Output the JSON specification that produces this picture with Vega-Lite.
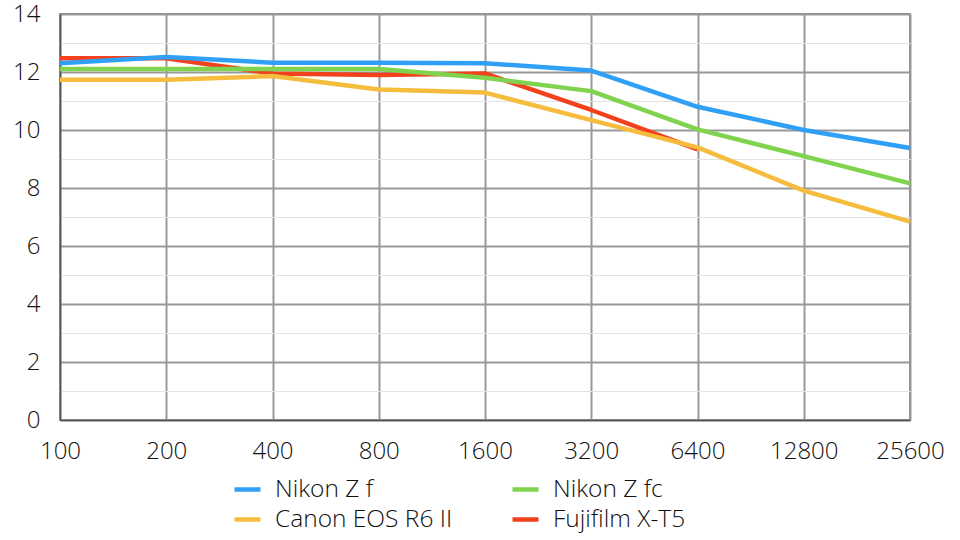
{
  "$schema": "https://vega.github.io/schema/vega-lite/v6.json",
  "width": 850,
  "height": 406,
  "autosize": {"type": "none"},
  "padding": {"left": 60, "top": 14, "right": 50, "bottom": 120},
  "background": "white",
  "config": {
    "view": {"stroke": "#666", "strokeWidth": 1.5},
    "font": "Open Sans"
  },
  "data": {
    "values": [
      {"camera": "Fujifilm X-T5", "iso": "100", "value": 12.47},
      {"camera": "Fujifilm X-T5", "iso": "200", "value": 12.47},
      {"camera": "Fujifilm X-T5", "iso": "400", "value": 11.95},
      {"camera": "Fujifilm X-T5", "iso": "800", "value": 11.9},
      {"camera": "Fujifilm X-T5", "iso": "1600", "value": 11.95},
      {"camera": "Fujifilm X-T5", "iso": "3200", "value": 10.69},
      {"camera": "Fujifilm X-T5", "iso": "6400", "value": 9.33},
      {"camera": "Nikon Z fc", "iso": "100", "value": 12.1},
      {"camera": "Nikon Z fc", "iso": "200", "value": 12.1},
      {"camera": "Nikon Z fc", "iso": "400", "value": 12.1},
      {"camera": "Nikon Z fc", "iso": "800", "value": 12.1},
      {"camera": "Nikon Z fc", "iso": "1600", "value": 11.8},
      {"camera": "Nikon Z fc", "iso": "3200", "value": 11.34},
      {"camera": "Nikon Z fc", "iso": "6400", "value": 10.02},
      {"camera": "Nikon Z fc", "iso": "12800", "value": 9.1},
      {"camera": "Nikon Z fc", "iso": "25600", "value": 8.16},
      {"camera": "Canon EOS R6 II", "iso": "100", "value": 11.73},
      {"camera": "Canon EOS R6 II", "iso": "200", "value": 11.73},
      {"camera": "Canon EOS R6 II", "iso": "400", "value": 11.86},
      {"camera": "Canon EOS R6 II", "iso": "800", "value": 11.4},
      {"camera": "Canon EOS R6 II", "iso": "1600", "value": 11.29},
      {"camera": "Canon EOS R6 II", "iso": "3200", "value": 10.34},
      {"camera": "Canon EOS R6 II", "iso": "6400", "value": 9.4},
      {"camera": "Canon EOS R6 II", "iso": "12800", "value": 7.91},
      {"camera": "Canon EOS R6 II", "iso": "25600", "value": 6.84},
      {"camera": "Nikon Z f", "iso": "100", "value": 12.3},
      {"camera": "Nikon Z f", "iso": "200", "value": 12.52},
      {"camera": "Nikon Z f", "iso": "400", "value": 12.32},
      {"camera": "Nikon Z f", "iso": "800", "value": 12.32},
      {"camera": "Nikon Z f", "iso": "1600", "value": 12.3},
      {"camera": "Nikon Z f", "iso": "3200", "value": 12.05},
      {"camera": "Nikon Z f", "iso": "6400", "value": 10.8},
      {"camera": "Nikon Z f", "iso": "12800", "value": 10.0},
      {"camera": "Nikon Z f", "iso": "25600", "value": 9.38}
    ]
  },
  "mark": {"type": "line", "strokeWidth": 4.5, "strokeJoin": "round"},
  "encoding": {
    "x": {
      "field": "iso",
      "type": "ordinal",
      "sort": ["100", "200", "400", "800", "1600", "3200", "6400", "12800", "25600"],
      "scale": {"type": "point", "padding": 0},
      "axis": {
        "title": null,
        "labelAngle": 0,
        "labelFontSize": 24,
        "labelFontWeight": 300,
        "labelColor": "#111",
        "labelPadding": 19,
        "ticks": false,
        "domainColor": "#555",
        "domainWidth": 1.5,
        "grid": true,
        "gridColor": "#999",
        "gridWidth": 2
      }
    },
    "y": {
      "field": "value",
      "type": "quantitative",
      "scale": {"domain": [0, 14], "nice": false},
      "axis": {
        "title": null,
        "values": [0, 1, 2, 3, 4, 5, 6, 7, 8, 9, 10, 11, 12, 13, 14],
        "labelExpr": "datum.value % 2 === 0 ? datum.label : ''",
        "labelFontSize": 24,
        "labelFontWeight": 300,
        "labelColor": "#111",
        "labelPadding": 20,
        "labelFlush": false,
        "ticks": false,
        "domainColor": "#555",
        "domainWidth": 1.5,
        "gridColor": {"condition": {"test": "datum.value % 2 === 0", "value": "#999"}, "value": "#e2e2e2"},
        "gridWidth": {"condition": {"test": "datum.value % 2 === 0", "value": 2}, "value": 1.2}
      }
    },
    "color": {
      "field": "camera",
      "type": "nominal",
      "scale": {
        "domain": ["Nikon Z f", "Nikon Z fc", "Canon EOS R6 II", "Fujifilm X-T5"],
        "range": ["#30a0f7", "#7fd34f", "#f5bc3d", "#f2421d"]
      },
      "legend": {
        "title": null,
        "orient": "none",
        "legendX": 172,
        "legendY": 460,
        "columns": 2,
        "direction": "horizontal",
        "symbolType": "stroke",
        "symbolSize": 676,
        "symbolStrokeWidth": 4.5,
        "labelFontSize": 24.5,
        "labelFontWeight": 300,
        "labelColor": "#111",
        "labelOffset": 12,
        "labelLimit": 400,
        "rowPadding": 3,
        "columnPadding": 50
      }
    }
  }
}
